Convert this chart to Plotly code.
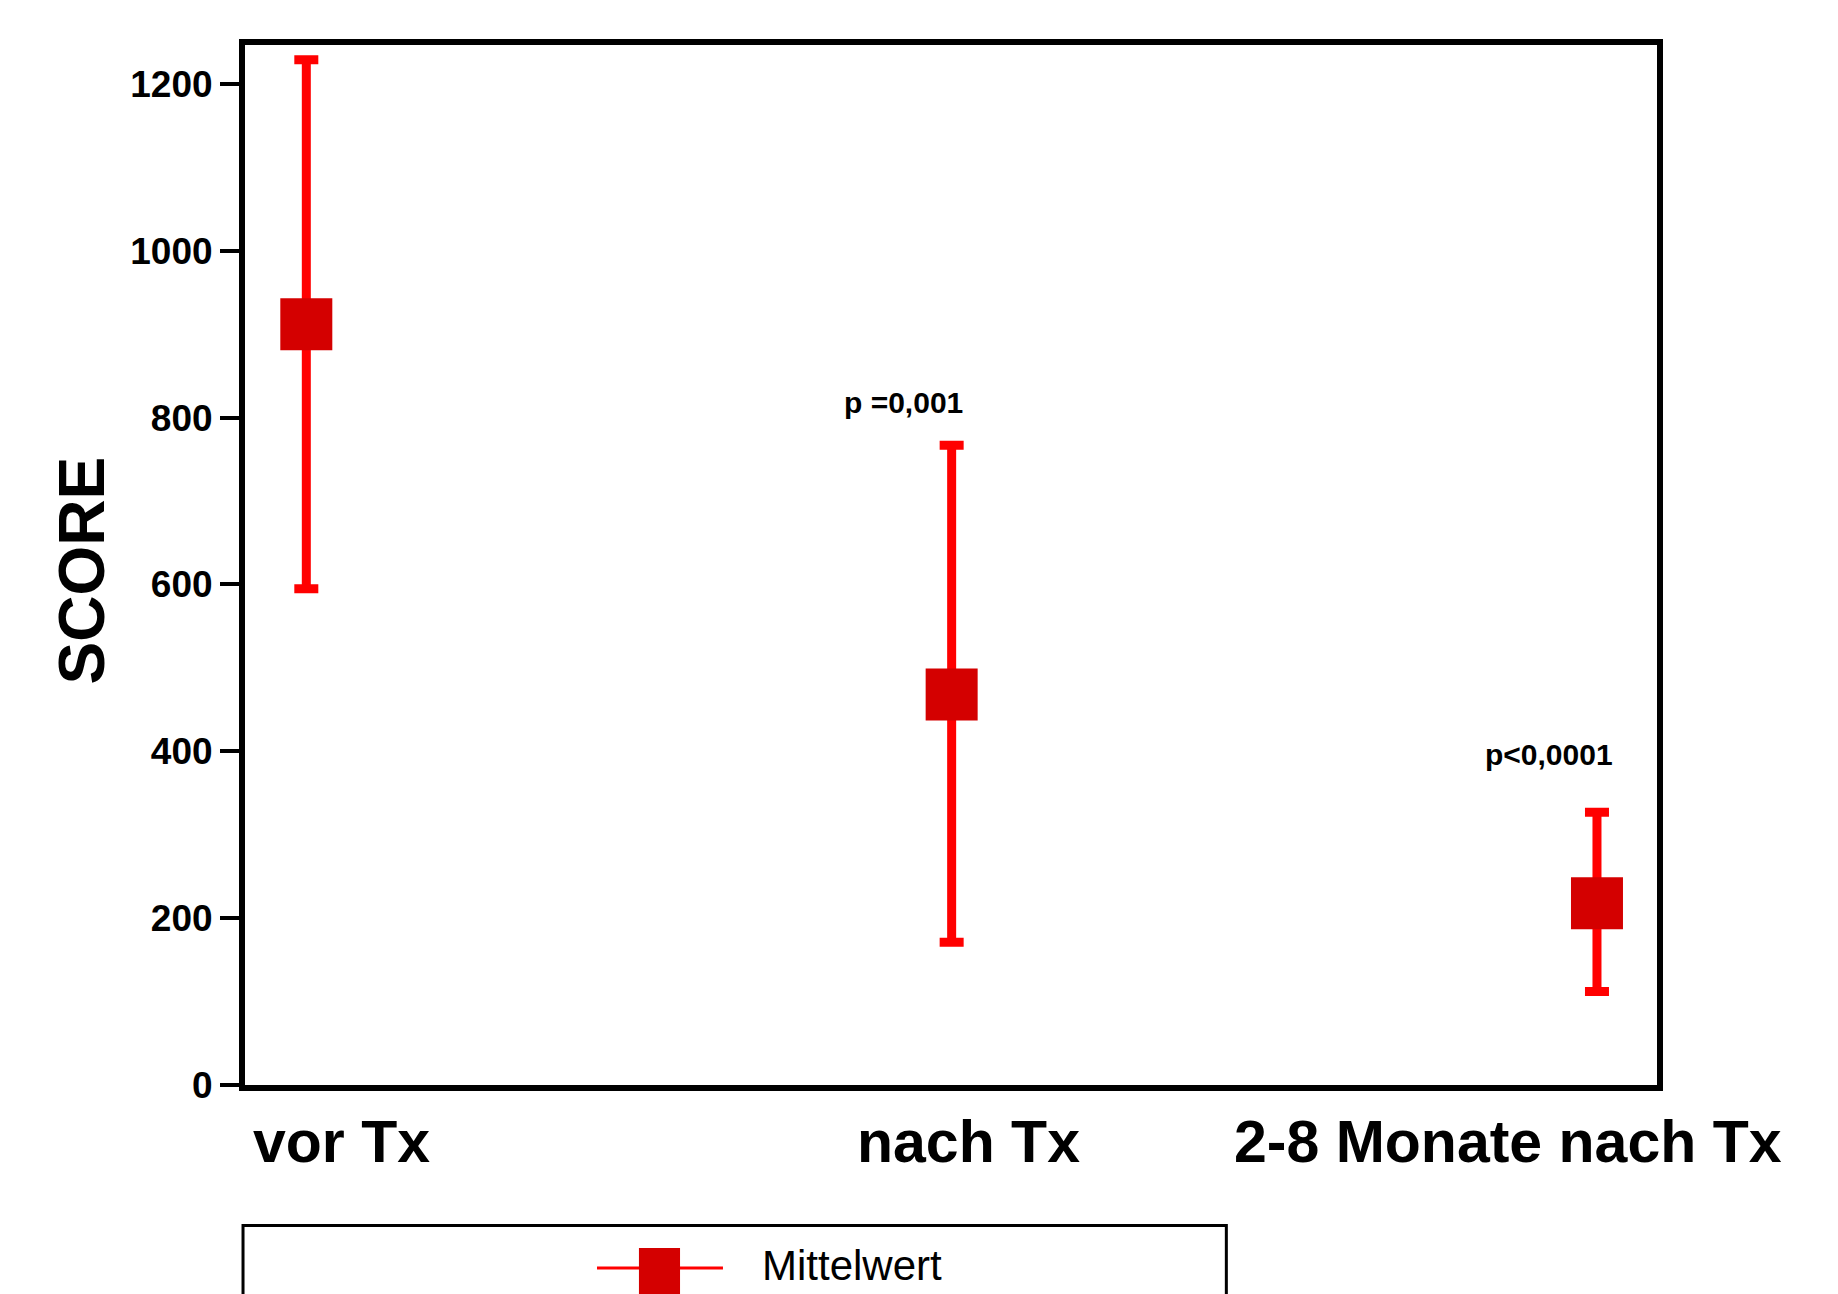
import plotly.graph_objects as go

# ---- data ----
categories = ["vor Tx", "nach Tx", "2-8 Monate nach Tx"]
mean_values = [912, 468, 218]
upper_values = [1229, 767, 327]
lower_values = [595, 171, 112]
p_labels = ["", "p =0,001", "p<0,0001"]
y_ticks = [0, 200, 400, 600, 800, 1000, 1200]
series_name = "Mittelwert"

FONT = "Liberation Sans, Arial, Helvetica, sans-serif"
idx = list(range(len(categories)))

fig = go.Figure()
fig.add_trace(go.Scatter(
    x=idx, y=mean_values, mode="markers", name=series_name, showlegend=False,
    marker=dict(symbol="square", size=52, color="#d40000", line=dict(width=0)),
    error_y=dict(
        type="data", symmetric=False,
        array=[u - m for u, m in zip(upper_values, mean_values)],
        arrayminus=[m - l for m, l in zip(mean_values, lower_values)],
        color="#ff0000", thickness=9, width=12,
    ),
))

annotations = []
# category labels under the axis
label_offsets = [0.054, 0.026, -0.138]
for i, (c, off) in enumerate(zip(categories, label_offsets)):
    annotations.append(dict(
        x=i + off, xref="x", y=0, yref="paper", yanchor="middle", yshift=-57,
        text=c, showarrow=False,
        font=dict(family=FONT, size=59, color="black", weight="bold"),
    ))
# p-value labels
p_dx = [0, -0.074, -0.074]
p_dy = [0, 51, 69]
for i, (p, u) in enumerate(zip(p_labels, upper_values)):
    if p:
        annotations.append(dict(
            x=i + p_dx[i], xref="x", y=u + p_dy[i], yref="y", yanchor="middle",
            text=p, showarrow=False,
            font=dict(family=FONT, size=30, color="black", weight="bold"),
        ))
# y axis title
annotations.append(dict(
    x=-0.1153, xref="paper", y=0.495, yref="paper", textangle=-90,
    xanchor="center", yanchor="middle", text="SCORE", showarrow=False,
    font=dict(family=FONT, size=64, color="black", weight="bold"),
))
# legend text
annotations.append(dict(
    x=0.3649, xref="paper", y=-0.1731, yref="paper", xanchor="left", yanchor="middle",
    text=series_name, showarrow=False,
    font=dict(family=FONT, size=42, color="black"),
))

shapes = [
    # legend box (extends beyond the bottom edge)
    dict(type="rect", xref="paper", yref="paper", x0=-0.0014, x1=0.695, y0=-0.135, y1=-0.40,
         line=dict(color="black", width=3), fillcolor="rgba(0,0,0,0)"),
    # legend sample line
    dict(type="line", xref="paper", yref="paper", x0=0.2493, x1=0.3385, y0=-0.1760, y1=-0.1760,
         line=dict(color="#ff0000", width=3)),
    # legend sample square
    dict(type="rect", xref="paper", yref="paper", x0=0.2790, x1=0.3081, y0=-0.1568, y1=-0.2010,
         line=dict(width=0), fillcolor="#d40000"),
]

fig.update_layout(
    width=1838, height=1294,
    margin=dict(l=237, r=189, t=37, b=217, pad=0),
    paper_bgcolor="white", plot_bgcolor="white",
    font=dict(family=FONT, color="black"),
    annotations=annotations, shapes=shapes,
    xaxis=dict(
        range=[-0.095, 2.093], showgrid=False, zeroline=False,
        showline=True, linecolor="black", linewidth=6, mirror=True,
        ticks="", showticklabels=False,
    ),
    yaxis=dict(
        range=[0, 1246.7], showgrid=False, zeroline=False,
        showline=True, linecolor="black", linewidth=6, mirror=True,
        ticks="outside", ticklen=19, tickwidth=4, tickcolor="black",
        tickvals=y_ticks, ticktext=[str(v) for v in y_ticks],
        tickfont=dict(family=FONT, size=37, color="black", weight="bold"),
    ),
)

fig.write_html("out.html")
